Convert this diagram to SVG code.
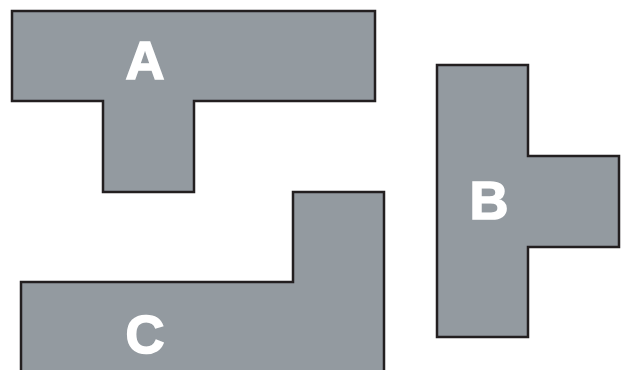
<svg xmlns="http://www.w3.org/2000/svg" width="627" height="370" viewBox="0 0 627 370">
<style>
.shape{fill:#939aa0;stroke:#231f20;stroke-width:2.5;stroke-linejoin:miter}
.lbl{font-family:"Liberation Sans",Arial,sans-serif;font-weight:bold;font-size:54px;fill:#ffffff;stroke:#ffffff;stroke-width:1.6;stroke-linejoin:miter;text-anchor:middle}
</style>
<rect width="627" height="370" fill="#ffffff"/>
<g id="A">
<path class="shape" d="M12,11 H375 V101 H194 V192 H103 V101 H12 Z"/>
<text class="lbl" x="145" y="79">A</text>
</g>
<g id="B">
<path class="shape" d="M437,65 H528 V156 H619 V247 H528 V337 H437 Z"/>
<text class="lbl" x="489" y="219">B</text>
</g>
<g id="C">
<path class="shape" d="M21,282 H293 V192 H384 V372 H21 Z"/>
<text class="lbl" x="145" y="353">C</text>
</g>
</svg>
